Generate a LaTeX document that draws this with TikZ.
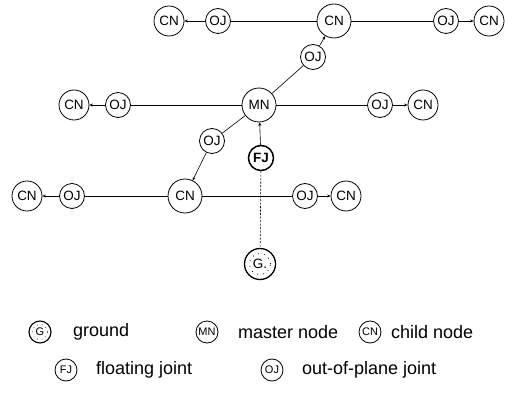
\documentclass[tikz,border=0pt]{standalone}
\usepackage{fontspec}
\setmainfont{Liberation Sans}
\usetikzlibrary{arrows.meta}
\tikzset{
  nd/.style={circle,draw,line width=0.8pt,inner sep=0pt,font=\fontsize{13.5}{13.5}\selectfont},
  cn/.style={nd,minimum size=30pt},
  cnb/.style={nd,minimum size=34pt},
  oj/.style={nd,minimum size=25pt},
  fj/.style={nd,minimum size=25pt,line width=1.5pt,font=\bfseries\fontsize{13.5}{13.5}\selectfont},
  gn/.style={nd,minimum size=31pt,line width=1.3pt},
  lg/.style={nd,minimum size=22pt,font=\fontsize{11}{11}\selectfont},
  lt/.style={anchor=west,font=\fontsize{18}{18}\selectfont,inner sep=0pt},
  ln/.style={line width=0.6pt},
  ar/.style={line width=0.6pt,-{Stealth[length=3.5pt,width=3pt]}},
  speck/.style={draw,line width=0.8pt,dash pattern=on 0.8pt off 5pt},
}
\begin{document}
\begin{tikzpicture}[x=1pt,y=-1pt]
\useasboundingbox (0,0) rectangle (505,395);
% top row
\node[cn] (c1) at (169,21) {CN};
\node[oj] (o1) at (218,21) {OJ};
\node[cnb] (c2) at (334,21) {CN};
\node[oj] (o2) at (446,21) {OJ};
\node[cn] (c3) at (489,21) {CN};
\node[oj] (ou) at (313,57) {OJ};
% middle row
\node[cn] (c4) at (74,105) {CN};
\node[oj] (o4) at (118,105) {OJ};
\node[cnb] (mn) at (259,105) {MN};
\node[oj] (o5) at (380,105) {OJ};
\node[cn] (c5) at (423,105) {CN};
\node[fj] (fj) at (261,158) {FJ};
\node[oj] (od) at (212,141) {OJ};
% bottom row
\node[cn] (c6) at (27,196) {CN};
\node[oj] (o6) at (72,196) {OJ};
\node[cnb] (c7) at (185,196) {CN};
\node[oj] (o7) at (305,196) {OJ};
\node[cn] (c8) at (346,196) {CN};
\node[gn] (g) at (260,264) {G.};
\draw[speck] (g.center) circle[radius=10.5pt];
% connectors
\draw[ar] (o1) -- (c1);
\draw[ln] (o1) -- (c2);
\draw[ln] (c2) -- (o2);
\draw[ar] (o2) -- (c3);
\draw[ln] (mn) -- (ou);
\draw[ar] (ou) -- (c2);
\draw[ar] (o4) -- (c4);
\draw[ln] (o4) -- (mn);
\draw[ln] (mn) -- (o5);
\draw[ar] (o5) -- (c5);
\draw[ln] (mn) -- (od);
\draw[ar] (od) -- (c7);
\draw[ar] (fj) -- (mn);
\draw[ar] (o6) -- (c6);
\draw[ln] (o6) -- (c7);
\draw[ln] (c7) -- (o7);
\draw[ar] (o7) -- (c8);
\draw[ln,dash pattern=on 2pt off 1.5pt] (fj) -- (g);
% legend
\node[lg,line width=1.1pt] (lG) at (40,332) {G};
\draw[speck,line width=0.6pt,dash pattern=on 0.6pt off 4pt] (lG.center) circle[radius=7.5pt];
\node[lt] (tG) at (73,332) {ground};
\node[lg] (lM) at (207,332) {MN};
\node[lt] (tM) at (238,332) {master node};
\node[lg] (lC) at (370,332) {CN};
\node[lt] (tC) at (391,332) {child node};
\node[lg] (lF) at (66,370) {FJ};
\node[lt] (tF) at (96,370) {floating joint};
\node[lg] (lO) at (272,370) {OJ};
\node[lt] (tO) at (302,370) {out-of-plane joint};
\end{tikzpicture}
\end{document}
